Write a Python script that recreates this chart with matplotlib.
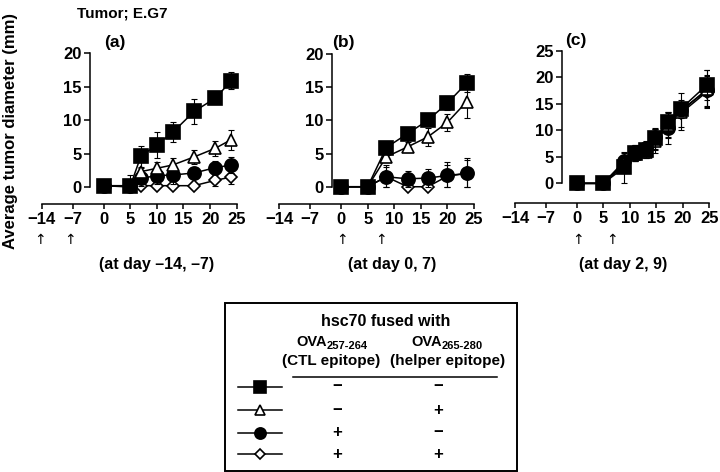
import numpy as np
import matplotlib
matplotlib.use('Agg')
import matplotlib.pyplot as plt
from matplotlib.patches import Rectangle
from matplotlib.transforms import blended_transform_factory

plt.rcParams['font.family'] = ['Liberation Sans', 'DejaVu Sans']
plt.rcParams['font.weight'] = 'bold'

####################################
# Data
####################################

days_a = [0, 5, 7, 10, 13, 17, 21, 24]
sq_a = [0.2, 0.1, 4.6, 6.3, 8.2, 11.3, 13.3, 15.9]
sq_a_err = [0, 0, 1.6, 1.9, 1.5, 1.9, 0.6, 1.3]
tri_a = [0.2, 0.2, 2.3, 2.8, 3.3, 4.5, 5.8, 7.1]
tri_a_err = [0, 0.3, 0.6, 1.0, 1.1, 1.1, 1.1, 1.5]
cir_a = [0.2, 0.1, 1.3, 1.7, 1.8, 2.1, 2.9, 3.3]
cir_a_err = [0, 0.2, 1.2, 1.2, 1.3, 0.5, 1.0, 1.2]
dia_a = [0.2, 0.0, 0.2, 0.2, 0.2, 0.2, 1.0, 1.5]
dia_a_err = [0, 1.8, 0.3, 0.3, 0.3, 0.3, 0.8, 1.0]

days_b = [0, 5, 8.5, 12.5, 16.3, 20, 23.6]
sq_b = [0, 0, 5.9, 8.0, 10.0, 12.6, 15.6]
sq_b_err = [0, 0, 0.7, 0.9, 0.5, 1.0, 1.4]
tri_b = [0, 0, 4.5, 6.0, 7.5, 9.7, 12.8]
tri_b_err = [0, 0, 0.6, 0.7, 1.3, 1.3, 2.4]
cir_b = [0, 0, 1.5, 1.2, 1.3, 1.7, 2.0]
cir_b_err = [0, 0, 1.8, 1.2, 1.3, 2.0, 2.3]
dia_b = [0, 0, 1.5, 0, 0, 1.6, 2.0]
dia_b_err = [0, 0, 1.5, 0.3, 0.3, 1.7, 2.0]

days_c = [0, 5, 9, 11, 13, 14.8, 17.2, 19.6, 24.6]
sq_c = [0, 0, 3.0, 5.7, 6.3, 8.5, 11.5, 14.0, 18.6]
sq_c_err = [0, 0, 3.0, 1.5, 1.5, 2.0, 1.8, 1.3, 2.8]
tri_c = [0, 0, 3.8, 5.5, 6.0, 8.0, 11.0, 13.5, 17.8]
tri_c_err = [0, 0, 1.2, 1.2, 1.3, 2.3, 2.5, 3.5, 3.6]
cir_c = [0, 0, 4.2, 5.9, 6.6, 8.7, 10.5, 13.8, 17.5]
cir_c_err = [0, 0, 1.6, 1.4, 1.4, 1.6, 3.0, 1.5, 3.0]
dia_c = [0, 0, 3.5, 5.4, 6.2, 8.0, 10.8, 13.2, 17.3]
dia_c_err = [0, 0, 1.5, 1.2, 1.2, 1.8, 2.0, 2.5, 3.0]

xticks = [-14, -7, 0, 5, 10, 15, 20, 25]
legend_rows = [('−', '−'), ('−', '+'), ('+', '−'), ('+', '+')]

####################################
# Styles: square, triangle, circle, diamond
####################################

styles = [
    dict(marker='s', mfc='black', ms=10.5, zorder=6),
    dict(marker='^', mfc='white', ms=9, zorder=5),
    dict(marker='o', mfc='black', ms=9.5, zorder=4),
    dict(marker='D', mfc='white', ms=6.5, zorder=3),
]
draw_order = [3, 2, 1, 0]

W, H = 720, 472
fig = plt.figure(figsize=(7.2, 4.72), dpi=100)

K = 0.83  # negative days are drawn compressed


def fwd(x):
    x = np.asarray(x, dtype=float)
    return np.where(x < 0, x * K, x)


def inv(y):
    y = np.asarray(y, dtype=float)
    return np.where(y < 0, y / K, y)


def box(left, top, right, bottom):
    return [left / W, 1 - bottom / H, (right - left) / W, (bottom - top) / H]


def panel(pos, ylim, ytop, spine_x, days, series, errs, tag, arrows, note):
    ax = fig.add_axes(box(*pos))
    ax.set_xscale('function', functions=(fwd, inv))
    ax.set_xlim(-14, 25)
    ax.set_ylim(ylim, ytop)
    for i in draw_order:
        st = styles[i]
        vals = np.array(series[i])
        err = np.array(errs[i])
        lower = np.minimum(err, vals)  # bars stop at zero
        ax.errorbar(days, vals, yerr=[lower, err], fmt='none', ecolor='black',
                    elinewidth=0.8, capsize=2.2, capthick=0.8, zorder=st['zorder'] - 0.5)
        ax.plot(days, vals, color='black', lw=1.1, marker=st['marker'],
                mfc=st['mfc'], mec='black', mew=1.2, ms=st['ms'], zorder=st['zorder'],
                clip_on=False)
    ax.spines['top'].set_visible(False)
    ax.spines['right'].set_visible(False)
    ax.spines['left'].set_position(('data', spine_x))
    ax.spines['left'].set_bounds(0, ytop)
    ax.spines['left'].set_linewidth(1.1)
    ax.spines['bottom'].set_linewidth(1.1)
    ax.set_yticks(np.arange(0, ytop + 1, 5))
    ax.set_xticks(xticks)
    ax.set_xticklabels([f'{t}'.replace('-', '−') for t in xticks])
    ax.tick_params(axis='y', direction='out', length=4, width=1.1, pad=2, labelsize=12)
    ax.tick_params(axis='x', direction='out', length=3.5, width=1.1, pad=2, labelsize=12)
    ax.minorticks_off()
    ax.patch.set_visible(False)

    tr = blended_transform_factory(ax.transData, fig.transFigure)
    for a in arrows:
        ax.text(a, 1 - 240 / H, '↑', transform=tr, ha='center', va='center',
                fontsize=10, fontweight='normal', family='DejaVu Sans')
    ax.text(tag[0], 1 - tag[1] / H, tag[2], transform=tr, ha='center', va='center',
            fontsize=12.5)
    fig.text(note[0] / W, 1 - 265 / H, note[1], ha='center', va='center', fontsize=11.5)
    return ax


panel((41.7, 53.3, 236.7, 204), -2.54, 20, -3.06, days_a,
      [sq_a, tri_a, cir_a, dia_a], [sq_a_err, tri_a_err, cir_a_err, dia_a_err],
      (2.2, 43, '(a)'), [-14.4, -7.6], (157, '(at day –14, –7)'))
panel((279.3, 54, 474, 204), -2.6, 20, -2.07, days_b,
      [sq_b, tri_b, cir_b, dia_b], [sq_b_err, tri_b_err, cir_b_err, dia_b_err],
      (0.4, 43, '(b)'), [0.2, 7.5], (392, '(at day 0, 7)'))
panel((515, 50.7, 709.3, 203), -3.7, 25, -3.3, days_c,
      [sq_c, tri_c, cir_c, dia_c], [sq_c_err, tri_c_err, cir_c_err, dia_c_err],
      (-0.3, 40, '(c)'), [0.3, 6.7], (623, '(at day 2, 9)'))

fig.text(77 / W, 1 - 13 / H, 'Tumor; E.G7', ha='left', va='center', fontsize=11)
fig.text(11 / W, 1 - 131 / H, 'Average tumor diameter (mm)', rotation=90,
         ha='center', va='center', fontsize=12)

####################################
# Legend table
####################################

lg = fig.add_axes([0, 0, 1, 1])
lg.set_xlim(0, W)
lg.set_ylim(H, 0)
lg.axis('off')
lg.add_patch(Rectangle((225, 303), 292, 168, fill=False, lw=1.4, ec='black'))
lg.text(386, 321, 'hsc70 fused with', ha='center', va='center', fontsize=11.5)
lg.text(327, 346, 'OVA', ha='right', va='baseline', fontsize=10.5)
lg.text(327, 349, '257-264', ha='left', va='baseline', fontsize=8)
lg.text(442, 346, 'OVA', ha='right', va='baseline', fontsize=10.5)
lg.text(442, 349, '265-280', ha='left', va='baseline', fontsize=8)
lg.text(331, 361, '(CTL epitope)', ha='center', va='center', fontsize=11)
lg.text(448, 361, '(helper epitope)', ha='center', va='center', fontsize=11)
lg.plot([293, 497], [377, 377], color='black', lw=1.1)
row_y = [387, 410, 433, 454]
for i, (c1, c2) in enumerate(legend_rows):
    st = styles[i]
    y = row_y[i]
    lg.plot([238, 282], [y, y], color='black', lw=1.1)
    lg.plot([260], [y], marker=st['marker'], mfc=st['mfc'], mec='black', mew=1.2,
            ms=st['ms'] * 0.85, color='black')
    lg.text(337, y, c1, ha='center', va='center', fontsize=12)
    lg.text(438, y, c2, ha='center', va='center', fontsize=12)

fig.savefig('out.png', dpi=100)
